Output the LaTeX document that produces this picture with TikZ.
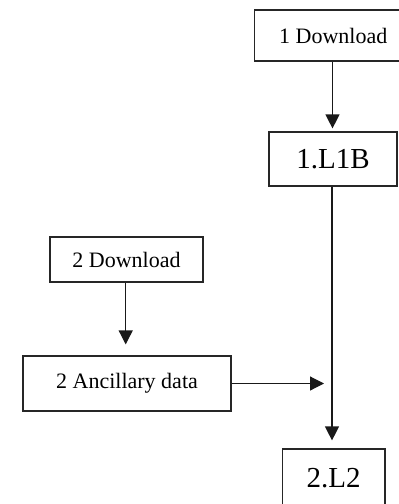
\documentclass[tikz,border=0pt]{standalone}
\usepackage{fontspec}
\setmainfont{Liberation Serif}
\usetikzlibrary{arrows.meta}
\begin{document}
\begin{tikzpicture}[x=1pt,y=-1pt,
  box/.style={draw=black!85,line width=1.2pt,fill=white,inner sep=0pt,font=\fontsize{22}{24}\selectfont},
  bigbox/.style={box,font=\fontsize{29}{32}\selectfont},
  arr/.style={draw=black!90,line width=1.2pt,-{Triangle[length=14pt,width=14pt]}}]
\useasboundingbox (0,0) rectangle (399,504);
\clip (0,0) rectangle (399,504);
\fill[white] (0,0) rectangle (399,504);
\node[box,minimum width=157pt,minimum height=51pt] (d1) at (333.3,35.5) {1 Download};
\node[bigbox,minimum width=128pt,minimum height=54pt] (l1b) at (333,159) {1.L1B};
\node[box,minimum width=153pt,minimum height=45pt] (d2) at (126.5,259.5) {2 Download};
\node[box,minimum width=208pt,minimum height=55pt] (anc) at (127,383.5) {2 Ancillary data};
\node[bigbox,minimum width=102.5pt,minimum height=58pt] (l2) at (333.7,478) {2.L2};
\coordinate (m) at (324,383.5);
\draw[arr,shorten >=3pt] (d1.south -| 332.5,0) -- (l1b.north -| 332.5,0);
\draw[arr,shorten >=8pt] (l1b.south -| 332,0) -- (l2.north -| 332,0);
\draw[arr,shorten >=11pt] (d2.south -| 125.7,0) -- (anc.north -| 125.7,0);
\draw[arr] (anc.east) -- (m);
\end{tikzpicture}
\end{document}
